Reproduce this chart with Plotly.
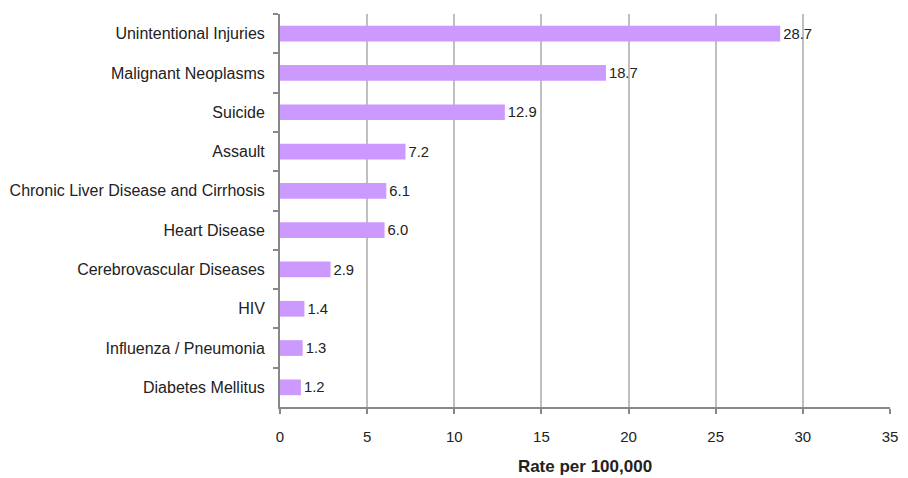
import plotly.graph_objects as go

categories = ["Unintentional Injuries", "Malignant Neoplasms", "Suicide", "Assault",
              "Chronic Liver Disease and Cirrhosis", "Heart Disease",
              "Cerebrovascular Diseases", "HIV", "Influenza / Pneumonia", "Diabetes Mellitus"]
values = [28.7, 18.7, 12.9, 7.2, 6.1, 6.0, 2.9, 1.4, 1.3, 1.2]
x_ticks = [0, 5, 10, 15, 20, 25, 30, 35]

font = "Liberation Sans, Arial, sans-serif"

fig = go.Figure(go.Bar(
    x=values, y=categories, orientation="h",
    marker=dict(color="#CC99FF", line=dict(width=0)),
    text=[f"{v:.1f}" for v in values], textposition="outside",
    textfont=dict(family=font, size=16, color="#222222"),
    cliponaxis=False,
))

fig.update_layout(
    width=908, height=478,
    margin=dict(l=272, r=26, t=6, b=79),
    paper_bgcolor="white", plot_bgcolor="white",
    bargap=0.6,
    showlegend=False,
    font=dict(family=font, size=16, color="#222222"),
    xaxis=dict(
        range=[0, 35], tickvals=x_ticks, showgrid=True, gridcolor="#BFBFBF", gridwidth=1.5,
        zeroline=False, showline=True, linecolor="#888888", linewidth=2,
        ticks="outside", ticklen=5, tickcolor="#888888", tickwidth=2,
        tickfont=dict(family=font, size=15, color="#222222"),
        ticklabelstandoff=10, automargin=False,
        title=dict(text="<b>Rate per 100,000</b>", font=dict(family=font, size=17, color="#222222"), standoff=16),
    ),
    yaxis=dict(
        autorange="reversed", showline=True, linecolor="#888888", linewidth=2,
        ticks="outside", tickson="boundaries", ticklen=5, tickcolor="#888888", tickwidth=2,
        showgrid=False, tickfont=dict(family=font, size=16, color="#222222"),
        ticklabelstandoff=10, automargin=False,
    ),
)

fig.write_html("out.html")
